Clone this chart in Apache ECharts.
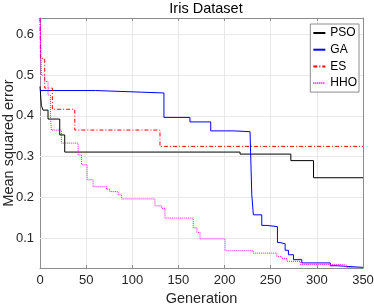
<!DOCTYPE html>
<html><head><meta charset="utf-8">
<script src="https://cdn.jsdelivr.net/npm/echarts@6/dist/echarts.min.js"></script>
<style>html,body{margin:0;padding:0;background:#fff}#c{width:374px;height:307px}</style>
</head><body><div id="c"></div>
<script>
const title = 'Iris Dataset';
const xLabel = 'Generation';
const yLabel = 'Mean squared error';
const xTicks = [0, 50, 100, 150, 200, 250, 300, 350];
const yTicks = [0.1, 0.2, 0.3, 0.4, 0.5, 0.6];
const seriesNames = ['PSO', 'GA', 'ES', 'HHO'];

const psoGen = [0, 1.5, 3.3, 8.7, 21.4, 26.8, 216.8, 271.8, 296.4, 350];
const psoVal = [0.472, 0.425, 0.414, 0.392, 0.353, 0.311, 0.306, 0.290, 0.248, 0.248];

const gaGen = [0, 60, 110, 134.3, 162.5, 185, 210, 227.6, 229.5, 231.2, 240.3, 245.8, 257.3, 260, 265.6, 269.2, 274.7, 283.7, 314.5, 322, 350];
const gaVal = [0.462, 0.458, 0.456, 0.396, 0.385, 0.363, 0.361, 0.360, 0.206, 0.157, 0.131, 0.128, 0.089, 0.086, 0.070, 0.059, 0.047, 0.039, 0.032, 0.028, 0.027];

const esGen = [0, 0.5, 5.1, 13.4, 37.7, 130, 350];
const esVal = [0.640, 0.541, 0.468, 0.416, 0.365, 0.325, 0.325];

const hhoGen = [0, 1.5, 5, 8.7, 11.3, 12.4, 23.2, 41.3, 44.9, 51, 57.5, 72, 75.7, 84.7, 88.4, 124.5, 131.8, 135.4, 166, 170, 173.4, 200.5, 231, 256.6, 262, 267.5, 282, 325, 332, 350];
const hhoVal = [0.640, 0.500, 0.484, 0.451, 0.394, 0.365, 0.333, 0.304, 0.280, 0.243, 0.226, 0.220, 0.214, 0.206, 0.196, 0.179, 0.173, 0.149, 0.125, 0.114, 0.098, 0.069, 0.063, 0.055, 0.050, 0.043, 0.035, 0.034, 0.028, 0.027];

const yMin = 0.0265, yMax = 0.64;

const pairs = (g, v) => g.map((x, i) => [x, v[i]]);
const font = 'Liberation Sans, Arial, Helvetica, sans-serif';
const axisCol = '#262626';
const boxCol = '#8c8c8c';

const styles = [
  {color: '#000000', type: 'solid'},
  {color: '#0000ff', type: 'solid'},
  {color: '#ff0000', type: [4, 2, 1, 2]},
  {color: '#ff00ff', type: [1, 1]}
];
const datas = [pairs(psoGen, psoVal), pairs(gaGen, gaVal), pairs(esGen, esVal), pairs(hhoGen, hhoVal)];

const chart = echarts.init(document.getElementById('c'));
chart.setOption({
  animation: false,
  backgroundColor: '#fff',
  title: {text: title, left: 201, top: -4, textAlign: 'center',
    textStyle: {fontFamily: font, fontSize: 14.5, fontWeight: 'normal', color: '#000'}},
  grid: {left: 40, right: 11, top: 18, bottom: 39, containLabel: false, outerBoundsMode: 'none'},
  legend: {
    orient: 'vertical', right: 15, top: 24,
    data: seriesNames,
    itemWidth: 12, itemHeight: 10, itemGap: 4.7,
    padding: [3, 2, 3, 2],
    borderColor: boxCol, borderWidth: 1, backgroundColor: '#fff',
    itemStyle: {opacity: 0},
    textStyle: {fontFamily: font, fontSize: 12, lineHeight: 11, color: '#000'}
  },
  xAxis: [{
    type: 'value', min: 0, max: 350, interval: 50,
    name: xLabel, nameLocation: 'middle', nameGap: 23, nameMoveOverlap: false,
    nameTextStyle: {fontFamily: font, fontSize: 14.5, color: axisCol},
    axisLine: {show: true, onZero: false, lineStyle: {color: boxCol}},
    axisTick: {show: true, inside: true, length: 3, lineStyle: {color: boxCol}},
    axisLabel: {fontFamily: font, fontSize: 13, color: axisCol, margin: 6},
    splitLine: {show: true, lineStyle: {color: '#e8e8e8', width: 1}}
  }, {
    type: 'value', min: 0, max: 350, interval: 50, position: 'top',
    axisLine: {show: true, onZero: false, lineStyle: {color: boxCol}},
    axisTick: {show: true, inside: true, length: 3, lineStyle: {color: boxCol}},
    axisLabel: {show: false}, splitLine: {show: false}
  }],
  yAxis: [{
    type: 'value', min: yMin, max: yMax,
    name: yLabel, nameLocation: 'middle', nameGap: 24, nameMoveOverlap: false,
    nameTextStyle: {fontFamily: font, fontSize: 14.5, color: axisCol},
    axisLine: {show: true, onZero: false, lineStyle: {color: boxCol}},
    axisTick: {show: true, inside: true, length: 3, customValues: yTicks, lineStyle: {color: boxCol}},
    axisLabel: {fontFamily: font, fontSize: 13, color: axisCol, margin: 6, customValues: yTicks,
      formatter: v => v.toFixed(1)},
    splitLine: {show: false}
  }, {
    type: 'value', min: yMin, max: yMax, position: 'right',
    axisLine: {show: true, onZero: false, lineStyle: {color: boxCol}},
    axisTick: {show: true, inside: true, length: 3, customValues: yTicks, lineStyle: {color: boxCol}},
    axisLabel: {show: false}, splitLine: {show: false}
  }],
  series: seriesNames.map((n, i) => ({
    name: n, type: 'line', step: 'end', symbol: 'none', xAxisIndex: 0, yAxisIndex: 0,
    data: datas[i],
    lineStyle: {color: styles[i].color, width: 1, type: styles[i].type},
    itemStyle: {color: styles[i].color},
    z: 3 + i,
    markLine: i === 0 ? {
      silent: true, symbol: 'none', label: {show: false},
      lineStyle: {color: '#e8e8e8', width: 1, type: 'solid'},
      data: yTicks.map(v => ({yAxis: v})), z: 1
    } : undefined
  }))
});
</script></body></html>
